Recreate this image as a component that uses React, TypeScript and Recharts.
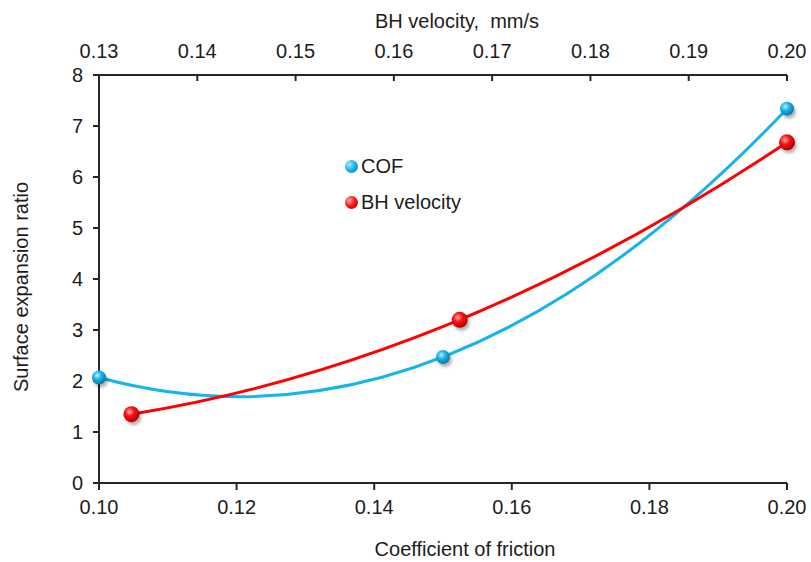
import React from "react";
import { LineChart, Line, XAxis, YAxis, Legend } from "recharts";

// Surface expansion ratio versus coefficient of friction (bottom axis)
// and back-hydraulic velocity (top axis).
const cofValues = [0.1, 0.15, 0.2];
const cofRatio = [2.07, 2.47, 7.34];

const bhVelocity = [0.1333, 0.1667, 0.2];
const bhRatio = [1.35, 3.2, 6.68];

const cofTicks = [0.1, 0.12, 0.14, 0.16, 0.18, 0.2];
const bhTicks = [0.13, 0.14, 0.15, 0.16, 0.17, 0.18, 0.19, 0.2];
const ratioTicks = [0, 1, 2, 3, 4, 5, 6, 7, 8];

const cofData = cofValues.map((x, i) => ({ x, y: cofRatio[i] }));
const bhData = bhVelocity.map((x, i) => ({ x, y: bhRatio[i] }));

const FONT = '"Liberation Sans", Arial, sans-serif';
const TEXT = "#1c1c1c";
const AXIS = "#262626";
const BLUE = "#17b3ec";
const RED = "#ff0000";

// Curve factory drawing the least-squares quadratic trend through the points
// (a single quadratic Bezier spanning the first to the last point).
function quadraticTrend(context: any) {
  let xs: number[] = [];
  let ys: number[] = [];
  return {
    areaStart() {},
    areaEnd() {},
    lineStart() {
      xs = [];
      ys = [];
    },
    point(x: number, y: number) {
      xs.push(+x);
      ys.push(+y);
    },
    lineEnd() {
      const n = xs.length;
      if (!n) return;
      if (n < 3) {
        context.moveTo(xs[0], ys[0]);
        for (let i = 1; i < n; i++) context.lineTo(xs[i], ys[i]);
        return;
      }
      const xm = xs.reduce((s, v) => s + v, 0) / n;
      const sc = Math.max(1, (xs[n - 1] - xs[0]) / 2);
      const us = xs.map((x) => (x - xm) / sc);
      const S = [0, 0, 0, 0, 0];
      const T = [0, 0, 0];
      us.forEach((u, i) => {
        for (let k = 0; k < 5; k++) S[k] += Math.pow(u, k);
        for (let k = 0; k < 3; k++) T[k] += ys[i] * Math.pow(u, k);
      });
      const M = [
        [S[0], S[1], S[2]],
        [S[1], S[2], S[3]],
        [S[2], S[3], S[4]],
      ];
      const det = (m: number[][]) =>
        m[0][0] * (m[1][1] * m[2][2] - m[1][2] * m[2][1]) -
        m[0][1] * (m[1][0] * m[2][2] - m[1][2] * m[2][0]) +
        m[0][2] * (m[1][0] * m[2][1] - m[1][1] * m[2][0]);
      const D = det(M);
      const solve = (col: number) =>
        det(M.map((row, r) => row.map((v, c) => (c === col ? T[r] : v)))) / D;
      const a = solve(0);
      const b = solve(1);
      const c = solve(2);
      const f = (x: number) => {
        const u = (x - xm) / sc;
        return a + b * u + c * u * u;
      };
      const df = (x: number) => {
        const u = (x - xm) / sc;
        return (b + 2 * c * u) / sc;
      };
      const x0 = xs[0];
      const x1 = xs[n - 1];
      const y0 = f(x0);
      context.moveTo(x0, y0);
      context.quadraticCurveTo((x0 + x1) / 2, y0 + (df(x0) * (x1 - x0)) / 2, x1, f(x1));
    },
  };
}

const makeDot = (gradId: string, r: number) => (props: any) => {
  const { cx, cy, index } = props;
  if (cx == null || cy == null) return <g key={`d-${gradId}-${index}`} />;
  return (
    <circle
      key={`d-${gradId}-${index}`}
      cx={cx}
      cy={cy}
      r={r}
      fill={`url(#${gradId})`}
      filter="url(#ballShadow)"
    />
  );
};

const TopTick = (props: any) => {
  const { x, y, payload } = props;
  const axisY = y + 17;
  return (
    <g>
      <line x1={x} x2={x} y1={axisY} y2={axisY + 6} stroke={AXIS} strokeWidth={2} />
      <text x={x} y={y} textAnchor="middle" fill={TEXT} fontSize={20} fontFamily={FONT}>
        {Number(payload.value).toFixed(2)}
      </text>
    </g>
  );
};

const legendItems = [
  { name: "COF", bg: "radial-gradient(circle at 35% 35%, #b4ecff 0%, #1ab3ea 45%, #0b76a6 100%)" },
  { name: "BH velocity", bg: "radial-gradient(circle at 35% 35%, #ffb0b0 0%, #ff1414 45%, #a80000 100%)" },
];

const renderLegend = () => (
  <div style={{ fontFamily: FONT, fontSize: 20, color: TEXT }}>
    {legendItems.map((it) => (
      <div key={it.name} style={{ display: "flex", alignItems: "center", height: 36 }}>
        <span
          style={{
            display: "inline-block",
            width: 13,
            height: 13,
            borderRadius: "50%",
            background: it.bg,
            marginRight: 3,
          }}
        />
        <span>{it.name}</span>
      </div>
    ))}
  </div>
);

export default function App() {
  return (
    <div style={{ position: "absolute", left: 0, top: 0, background: "#fff" }}>
      <LineChart width={811} height={562} margin={{ top: 0, right: 24, bottom: 0, left: 0 }}>
        <defs>
          <radialGradient id="ballBlue" cx="38%" cy="35%" r="70%">
            <stop offset="0%" stopColor="#bdefff" />
            <stop offset="40%" stopColor="#1eb6ec" />
            <stop offset="100%" stopColor="#0a6e9c" />
          </radialGradient>
          <radialGradient id="ballRed" cx="38%" cy="35%" r="70%">
            <stop offset="0%" stopColor="#ffb4b4" />
            <stop offset="40%" stopColor="#ff1212" />
            <stop offset="100%" stopColor="#a00000" />
          </radialGradient>
          <filter id="ballShadow" x="-50%" y="-50%" width="200%" height="200%">
            <feDropShadow dx="2" dy="3" stdDeviation="1.6" floodColor="#000" floodOpacity="0.3" />
          </filter>
        </defs>

        <XAxis
          xAxisId="cof"
          dataKey="x"
          type="number"
          orientation="bottom"
          domain={[0.1, 0.2]}
          ticks={cofTicks}
          tickFormatter={(v: number) => v.toFixed(2)}
          height={79}
          tickSize={7}
          tickMargin={10}
          tick={{ fill: TEXT, fontSize: 20, fontFamily: FONT }}
          axisLine={{ stroke: AXIS, strokeWidth: 2 }}
          tickLine={{ stroke: AXIS, strokeWidth: 2 }}
          label={{
            content: (p: any) => {
              const vb = p.viewBox;
              return (
                <text
                  x={vb.x + vb.width / 2 + 22}
                  y={vb.y + 73}
                  textAnchor="middle"
                  fill={TEXT}
                  fontSize={20}
                  fontFamily={FONT}
                >
                  Coefficient of friction
                </text>
              );
            },
          }}
        />
        <XAxis
          xAxisId="bh"
          dataKey="x"
          type="number"
          orientation="top"
          domain={[0.13, 0.2]}
          ticks={bhTicks}
          height={75}
          tickSize={0}
          tickMargin={17}
          tick={<TopTick />}
          tickLine={false}
          axisLine={{ stroke: AXIS, strokeWidth: 2 }}
          label={{
            content: (p: any) => {
              const vb = p.viewBox;
              return (
                <text
                  x={vb.x + vb.width / 2 + 14}
                  y={vb.y + 28}
                  textAnchor="middle"
                  fill={TEXT}
                  fontSize={20}
                  fontFamily={FONT}
                  style={{ whiteSpace: "pre" }}
                >
                  {"BH velocity,\u00a0 mm/s"}
                </text>
              );
            },
          }}
        />
        <YAxis
          yAxisId="left"
          type="number"
          domain={[0, 8]}
          ticks={ratioTicks}
          width={99}
          tickSize={6}
          tickMargin={10}
          tick={{ fill: TEXT, fontSize: 20, fontFamily: FONT }}
          axisLine={{ stroke: AXIS, strokeWidth: 2 }}
          tickLine={{ stroke: AXIS, strokeWidth: 2 }}
          label={{
            content: (p: any) => {
              const vb = p.viewBox;
              const cx = vb.x + 28;
              const cy = vb.y + vb.height / 2 + 8;
              return (
                <text
                  x={cx}
                  y={cy}
                  transform={`rotate(-90 ${cx} ${cy})`}
                  textAnchor="middle"
                  fill={TEXT}
                  fontSize={20}
                  fontFamily={FONT}
                >
                  Surface expansion ratio
                </text>
              );
            },
          }}
        />
        <YAxis
          yAxisId="right"
          orientation="right"
          type="number"
          domain={[0, 8]}
          width={0}
          tick={false}
          tickLine={false}
          axisLine={{ stroke: AXIS, strokeWidth: 2 }}
        />

        <Legend
          layout="vertical"
          align="center"
          verticalAlign="middle"
          content={renderLegend}
          wrapperStyle={{ left: 345, top: 148, width: 160 }}
        />

        <Line
          name="COF"
          data={cofData}
          xAxisId="cof"
          yAxisId="left"
          dataKey="y"
          type={quadraticTrend as any}
          stroke={BLUE}
          strokeWidth={3}
          dot={makeDot("ballBlue", 7)}
          activeDot={false}
          isAnimationActive={false}
        />
        <Line
          name="BH velocity"
          data={bhData}
          xAxisId="bh"
          yAxisId="left"
          dataKey="y"
          type={quadraticTrend as any}
          stroke={RED}
          strokeWidth={3}
          dot={makeDot("ballRed", 8)}
          activeDot={false}
          isAnimationActive={false}
        />
      </LineChart>
    </div>
  );
}
